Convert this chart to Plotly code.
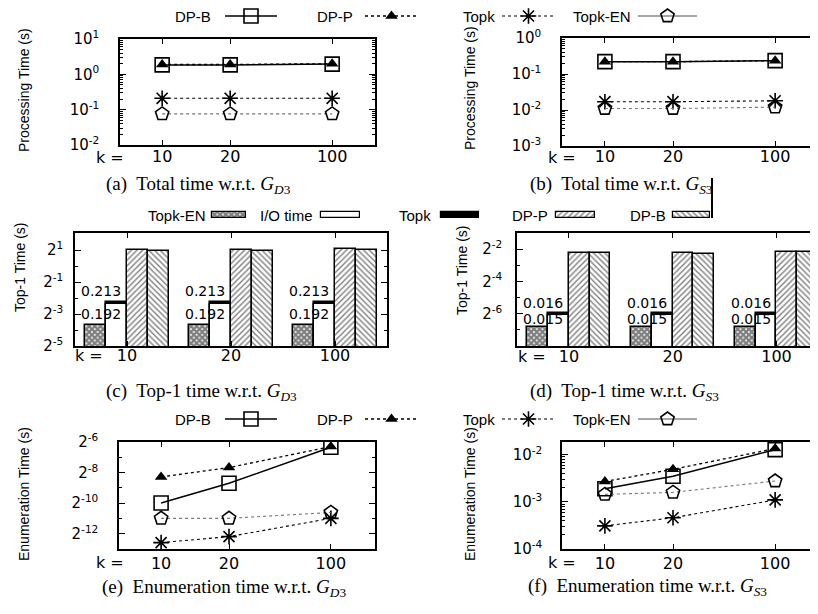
import numpy as np
import plotly.graph_objects as go

# The page body adds an 8 px margin, so the figure is 8 px smaller than the window
# and all layout positions below are given in window pixels, shifted by PAD.
PAD = 8
FW, FH = 818 - PAD, 614 - PAD

# ---------------- data ----------------
k_labels = ["10", "20", "100"]
k_pos = [1, 2, 3.5]          # axis positions of the k values in the line panels
group_pos = [0, 1, 2]        # axis positions of the k groups in the bar panels

# (a) Total time w.r.t. G_D3
a_dpb = [1.85, 1.85, 1.95]
a_dpp = [1.9, 1.9, 2.0]
a_topk = [0.21, 0.21, 0.21]
a_topken = [0.076, 0.076, 0.076]
# (b) Total time w.r.t. G_S3
b_dpb = [0.22, 0.22, 0.235]
b_dpp = [0.22, 0.22, 0.235]
b_topk = [0.017, 0.017, 0.018]
b_topken = [0.011, 0.011, 0.012]
# (c) Top-1 time w.r.t. G_D3
c_topken = [0.078, 0.078, 0.078]
c_io = [0.192, 0.192, 0.192]
c_topk = [0.213, 0.213, 0.213]
c_dpp = [2.0, 2.0, 2.07]
c_dpb = [1.92, 1.95, 2.0]
# (d) Top-1 time w.r.t. G_S3
d_topken = [0.009, 0.009, 0.009]
d_io = [0.015, 0.015, 0.015]
d_topk = [0.016, 0.016, 0.016]
d_dpp = [0.216, 0.21, 0.225]
d_dpb = [0.214, 0.205, 0.225]
# (e) Enumeration time w.r.t. G_D3
e_dpb = [0.00098, 0.0024, 0.0123]
e_dpp = [0.0032, 0.0049, 0.0127]
e_topken = [0.00049, 0.00049, 0.00064]
e_topk = [0.000163, 0.000214, 0.00049]
# (f) Enumeration time w.r.t. G_S3
f_dpb = [0.0019, 0.0035, 0.0128]
f_dpp = [0.0027, 0.0049, 0.0135]
f_topken = [0.00144, 0.00159, 0.00277]
f_topk = [0.00031, 0.00046, 0.0011]

line_series = ["DP-B", "DP-P", "Topk", "Topk-EN"]
bar_series = ["Topk-EN", "I/O time", "Topk", "DP-P", "DP-B"]

# ---------------- styles ----------------
XTICKF = dict(family="DejaVu Sans", size=16, color="black")
YTICKF = dict(family="DejaVu Sans", size=15, color="black")
LEGF = dict(family="Liberation Sans, Arial, sans-serif", size=15, color="black")
TITLEF = dict(family="Liberation Sans Narrow, Arial Narrow, Liberation Sans, sans-serif", size=14, color="black")
CAPF = dict(family="Liberation Serif, Times New Roman, serif", size=19, color="black")
LBLF = dict(family="DejaVu Sans", size=14, color="black")

LSTYLE = {
    "DP-B": dict(line=dict(color="black", width=1.5, dash="solid"),
                 marker=dict(symbol="square-open", size=14, color="black", line=dict(color="black", width=1.6))),
    "DP-P": dict(line=dict(color="black", width=1.3, dash="dot"),
                 marker=dict(symbol="triangle-up", size=11, color="black", line=dict(color="black", width=0))),
    "Topk": dict(line=dict(color="black", width=1.1, dash="dot"),
                 marker=dict(symbol="asterisk-open", size=13, color="black", line=dict(color="black", width=1.6))),
    "Topk-EN": dict(line=dict(color="#777777", width=1.1, dash="dot"),
                    marker=dict(symbol="pentagon-open", size=14, color="black", line=dict(color="black", width=1.6))),
}
BSTYLE = {
    "Topk-EN": dict(color="white", pattern=dict(shape="x", fgcolor="black", bgcolor="white", size=4, solidity=0.8)),
    "I/O time": dict(color="white"),
    "Topk": dict(color="black"),
    "DP-P": dict(color="white", pattern=dict(shape="/", fgcolor="black", bgcolor="white", size=4, solidity=0.35)),
    "DP-B": dict(color="white", pattern=dict(shape="\\", fgcolor="black", bgcolor="white", size=4, solidity=0.35)),
}


def px_x(x):
    return (x - PAD) / FW


def px_y(y):
    return 1 - (y - PAD) / FH


def dom_x(x0, x1):
    return [max(px_x(x0), 0.0), min(px_x(x1), 1.0)]


def dom_y(top, bottom):
    return [px_y(bottom), px_y(top)]


def pow_text(base, e):
    return f"{base}<sup>{e}</sup>"


fig = go.Figure()

L2 = np.log10(2)
panels = {
    "a": dict(n="", box=(120, 39, 375, 145), xr=[0.38, 4.13], yr=[-2, 1], base=10,
              major=[-2, -1, 0, 1], ysoff=16, xsoff=-4),
    "b": dict(n="2", box=(562, 38, 816, 146), xr=[0.37, 4.10], yr=[-3, 0], base=10,
              major=[-3, -2, -1, 0], ysoff=16, xsoff=-5),
    "c": dict(n="3", box=(75, 233, 387, 346), xr=[-0.5, 2.5], yr=[-5 * L2, 2.07 * L2], base=2,
              major=[-5, -3, -1, 1], minor=[-4, -2, 0], ysoff=7, xsoff=-6),
    "d": dict(n="4", box=(517, 233, 818, 346), xr=[-0.5, 2.4], yr=[-8 * L2, -1 * L2], base=2,
              major=[-6, -4, -2], minor=[-8, -7, -5, -3, -1], ysoff=10, xsoff=-5),
    "e": dict(n="5", box=(119, 442, 375, 549), xr=[0.38, 4.15], yr=[-13 * L2, -6 * L2], base=2,
              major=[-12, -10, -8, -6], minor=[-13, -11, -9, -7], ysoff=16, xsoff=-1),
    "f": dict(n="6", box=(562, 442, 816, 549), xr=[0.37, 4.10], yr=[-4, -1.73], base=10,
              major=[-4, -3, -2], ysoff=15, xsoff=-1),
}

layout_axes = {}
for key, p in panels.items():
    n = p["n"]
    l, t, r, b = p["box"]
    if p["base"] == 10:
        tv = [10.0 ** e for e in p["major"]]
        lo, hi = int(np.floor(p["yr"][0])), int(np.ceil(p["yr"][1]))
        mv = [m * 10.0 ** e for e in range(lo, hi) for m in range(2, 10)]
    else:
        tv = [2.0 ** e for e in p["major"]]
        mv = [2.0 ** e for e in p["minor"]]
    tt = [pow_text(p["base"], e) for e in p["major"]]
    is_bar = key in ("c", "d")
    layout_axes["xaxis" + n] = dict(
        domain=dom_x(l, r), range=p["xr"], anchor="y" + n, automargin=False,
        tickmode="array",
        tickvals=(group_pos if is_bar else k_pos), ticktext=k_labels,
        ticks="inside", ticklen=5, tickwidth=1, tickcolor="black",
        showline=True, linecolor="black", linewidth=1.5, mirror="ticks",
        showgrid=False, zeroline=False, tickfont=XTICKF, ticklabelstandoff=p["xsoff"],
        fixedrange=True,
    )
    layout_axes["yaxis" + n] = dict(
        domain=dom_y(t, b), type="log", range=p["yr"], anchor="x" + n, automargin=False,
        tickmode="array", tickvals=tv, ticktext=tt,
        ticks="inside", ticklen=6, tickwidth=1, tickcolor="black",
        minor=dict(tickmode="array", tickvals=mv, ticks="inside", ticklen=3, tickcolor="black", showgrid=False),
        showline=True, linecolor="black", linewidth=1.5,
        mirror=(False if key == "d" else "ticks"),
        showgrid=False, zeroline=False, tickfont=YTICKF, ticklabelstandoff=p["ysoff"],
        fixedrange=True,
    )

# overlay axis in window-pixel coordinates for legend samples
layout_axes["xaxis7"] = dict(domain=[0, 1], range=[PAD, PAD + FW], anchor="y7", visible=False,
                             fixedrange=True, automargin=False)
layout_axes["yaxis7"] = dict(domain=[0, 1], range=[PAD + FH, PAD], anchor="x7", visible=False,
                             fixedrange=True, automargin=False)

# ---------------- line panels ----------------
line_data = {
    "": dict(zip(line_series, [a_dpb, a_dpp, a_topk, a_topken])),
    "2": dict(zip(line_series, [b_dpb, b_dpp, b_topk, b_topken])),
    "5": dict(zip(line_series, [e_dpb, e_dpp, e_topk, e_topken])),
    "6": dict(zip(line_series, [f_dpb, f_dpp, f_topk, f_topken])),
}
for n, series in line_data.items():
    for name in line_series:
        st = LSTYLE[name]
        fig.add_trace(go.Scatter(x=k_pos, y=series[name], mode="lines+markers",
                                 line=st["line"], marker=st["marker"], name=name,
                                 showlegend=False, xaxis="x" + n, yaxis="y" + n))

# ---------------- bar panels ----------------
bar_data = {
    "3": dict(zip(bar_series, [c_topken, c_io, c_topk, c_dpp, c_dpb])),
    "4": dict(zip(bar_series, [d_topken, d_io, d_topk, d_dpp, d_dpb])),
}
bar_offsets = {"Topk-EN": -0.3, "Topk": -0.1, "I/O time": -0.1, "DP-P": 0.1, "DP-B": 0.3}
draw_order = ["Topk-EN", "Topk", "I/O time", "DP-P", "DP-B"]
annotations = []
for n, series in bar_data.items():
    for name in draw_order:
        fig.add_trace(go.Bar(x=[g + bar_offsets[name] for g in group_pos], y=series[name],
                             width=0.2, name=name, showlegend=False,
                             marker=dict(**BSTYLE[name], line=dict(color="black", width=1.5)),
                             xaxis="x" + n, yaxis="y" + n))
    up, dn = (11, -10) if n == "3" else (10, -4)
    for g, vt, vi in zip(group_pos, series["Topk"], series["I/O time"]):
        annotations.append(dict(x=g - 0.25, y=np.log10(vt), xref="x" + n, yref="y" + n,
                                text=f"{vt:.3f}", showarrow=False, font=LBLF, yshift=up,
                                xanchor="center", yanchor="middle"))
        annotations.append(dict(x=g - 0.25, y=np.log10(vi), xref="x" + n, yref="y" + n,
                                text=f"{vi:.3f}", showarrow=False, font=LBLF, yshift=dn,
                                xanchor="center", yanchor="middle"))

# ---------------- legends (gnuplot style: text then sample) ----------------
line_leg = [("DP-B", 213, 225, 277), ("DP-P", 355, 365, 418),
            ("Topk", 497, 502, 555), ("Topk-EN", 633, 638, 697)]
for ly in (16, 419):
    for name, tx, x0, x1 in line_leg:
        st = LSTYLE[name]
        lst = dict(st["line"])
        if name == "Topk-EN":
            lst = dict(color="#888888", width=1.3, dash="solid")
        fig.add_trace(go.Scatter(x=[x0, x1], y=[ly, ly], mode="lines", line=lst,
                                 showlegend=False, xaxis="x7", yaxis="y7", hoverinfo="skip"))
        fig.add_trace(go.Scatter(x=[(x0 + x1) / 2], y=[ly], mode="markers", marker=st["marker"],
                                 showlegend=False, xaxis="x7", yaxis="y7", hoverinfo="skip"))
        annotations.append(dict(x=tx, y=ly, xref="x7", yref="y7", text=name, showarrow=False,
                                xanchor="right", yanchor="middle", font=LEGF))

bar_leg = [("Topk-EN", 208, 212, 246), ("I/O time", 315, 321, 360), ("Topk", 433, 441, 479),
           ("DP-P", 550, 556, 595), ("DP-B", 668, 673, 710)]
by = 215
for name, tx, x0, x1 in bar_leg:
    fig.add_trace(go.Bar(x=[x1 - x0], base=[x0], y=[by], orientation="h", width=6,
                         marker=dict(**BSTYLE[name], line=dict(color="black", width=1.2)),
                         showlegend=False, xaxis="x7", yaxis="y7", hoverinfo="skip"))
    annotations.append(dict(x=tx, y=by, xref="x7", yref="y7", text=name, showarrow=False,
                            xanchor="right", yanchor="middle", font=LEGF))

# ---------------- axis titles, "k =" labels, captions ----------------
ytitles = [("Processing Time (s)", 24, 90), ("Processing Time (s)", 470, 88),
           ("Top-1 Time (s)", 20, 268), ("Top-1 Time (s)", 462, 270),
           ("Enumeration Time (s)", 24, 494), ("Enumeration Time (s)", 470, 494)]
for txt, x, y in ytitles:
    annotations.append(dict(x=px_x(x), y=px_y(y), xref="paper", yref="paper", text=txt,
                            textangle=-90, showarrow=False, font=TITLEF,
                            xanchor="center", yanchor="middle"))

keq = [(110, 157), (562, 157), (89, 355), (532, 356), (110, 562), (562, 562)]
for x, y in keq:
    annotations.append(dict(x=px_x(x), y=px_y(y), xref="paper", yref="paper", text="k =",
                            showarrow=False, font=XTICKF, xanchor="center", yanchor="middle"))

captions = [
    ("(a)  Total time w.r.t. <i>G</i><sub><i>D</i>3</sub>", 104, 185),
    ("(b)  Total time w.r.t. <i>G</i><sub><i>S</i>3</sub>", 528, 185),
    ("(c)  Top-1 time w.r.t. <i>G</i><sub><i>D</i>3</sub>", 104, 392),
    ("(d)  Top-1 time w.r.t. <i>G</i><sub><i>S</i>3</sub>", 528, 392),
    ("(e)  Enumeration time w.r.t. <i>G</i><sub><i>D</i>3</sub>", 100, 588),
    ("(f)  Enumeration time w.r.t. <i>G</i><sub><i>S</i>3</sub>", 526, 587),
]
for txt, x, y in captions:
    annotations.append(dict(x=px_x(x), y=px_y(y), xref="paper", yref="paper", text=txt,
                            xanchor="left", yanchor="middle", showarrow=False, font=CAPF))

shapes = [dict(type="line", xref="paper", yref="paper", x0=px_x(712), x1=px_x(712),
               y0=px_y(218), y1=px_y(178), line=dict(color="black", width=2))]

fig.update_layout(
    width=FW, height=FH, margin=dict(l=0, r=0, t=0, b=0, pad=0, autoexpand=False),
    paper_bgcolor="white", plot_bgcolor="rgba(0,0,0,0)",
    barmode="overlay", bargap=0, showlegend=False,
    annotations=annotations, shapes=shapes,
    **layout_axes,
)

fig.write_html("out.html")
